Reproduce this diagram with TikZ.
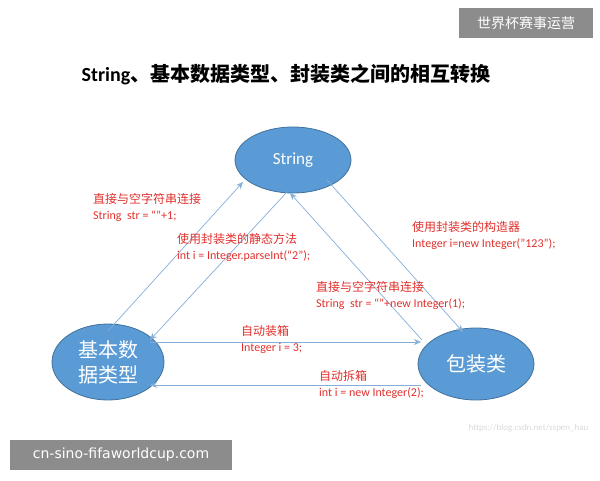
\documentclass[tikz,border=0pt]{standalone}
\usepackage{fontspec}
\setmainfont{Carlito}
\newfontfamily\cjk{Noto Sans CJK SC}
\usetikzlibrary{arrows.meta,shapes.geometric}
\definecolor{efill}{HTML}{5B9BD5}
\definecolor{edraw}{HTML}{41719C}
\definecolor{aline}{HTML}{86AED6}
\definecolor{lred}{HTML}{E0302C}
\tikzset{
 ell/.style={ellipse,fill=efill,draw=edraw,line width=0.8pt,text=white,align=center,inner sep=0pt},
 conn/.style={draw=aline,line width=0.7pt,-{Stealth[length=7pt,width=6pt]}},
 lab/.style={text=lred,align=left,anchor=north west,inner sep=0pt,font=\fontsize{12}{16}\selectfont},
 gbox/.style={fill=black!45,text=white,inner sep=0pt,minimum height=30pt}
}
\begin{document}
\begin{tikzpicture}[x=1pt,y=-1pt]
\useasboundingbox (0,0) rectangle (600,480);
\node[gbox,minimum width=134pt] (wm) at (526,23) {\cjk\fontsize{14}{14}\selectfont 世界杯赛事运营};
\node[gbox,minimum width=222pt] (url) at (121,455) {\fontspec{DejaVu Sans}\fontsize{14}{14}\selectfont cn-sino-fifaworldcup.com};
\node (title) at (286,74) {\fontsize{20}{20}\selectfont\bfseries String{\cjk 、基本数据类型、封装类之间的相互转换}};
\node[ell,minimum width=116pt,minimum height=66pt] (s) at (293,160) {\fontsize{17}{17}\selectfont String};
\node[ell,minimum width=112pt,minimum height=76pt,font=\cjk\fontsize{20}{25}\selectfont] (b) at (108,362) {基本数\\据类型};
\node[ell,minimum width=116pt,minimum height=72pt] (w) at (476,364) {\cjk\fontsize{20}{20}\selectfont 包装类};
\coordinate (b1) at (108,331); \coordinate (s1) at (243,182);
\coordinate (s2) at (287,192); \coordinate (b2) at (150,340);
\coordinate (w3) at (422,340); \coordinate (s3) at (290,193);
\coordinate (s4) at (327,180); \coordinate (w4) at (463,332);
\coordinate (b5) at (150,342); \coordinate (w5) at (421,342);
\coordinate (w6) at (421,385); \coordinate (b6) at (150,385);
\draw[conn] (b1) -- (s1);
\draw[conn] (s2) -- (b2);
\draw[conn] (w3) -- (s3);
\draw[conn] (s4) -- (w4);
\draw[conn] (b5) -- (w5);
\draw[conn] (w6) -- (b6);
\node[lab] (l1) at (93,193) {{\cjk 直接与空字符串连接}\\String\ \ str = “”+1;};
\node[lab] (l2) at (177,233) {{\cjk 使用封装类的静态方法}\\int i = Integer.parseInt(“2”);};
\node[lab] (l3) at (412,221) {{\cjk 使用封装类的构造器}\\Integer i=new Integer("123");};
\node[lab] (l4) at (316,281) {{\cjk 直接与空字符串连接}\\String\ \ str = “”+new Integer(1);};
\node[lab] (l5) at (241,325) {{\cjk 自动装箱}\\Integer i = 3;};
\node[lab] (l6) at (319,370) {{\cjk 自动拆箱}\\int i = new Integer(2);};
\node[text=black!15,anchor=east,font=\fontsize{9}{9}\selectfont] (csdn) at (592,428) {https://blog.csdn.net/sspen\_hau};
\end{tikzpicture}
\end{document}
